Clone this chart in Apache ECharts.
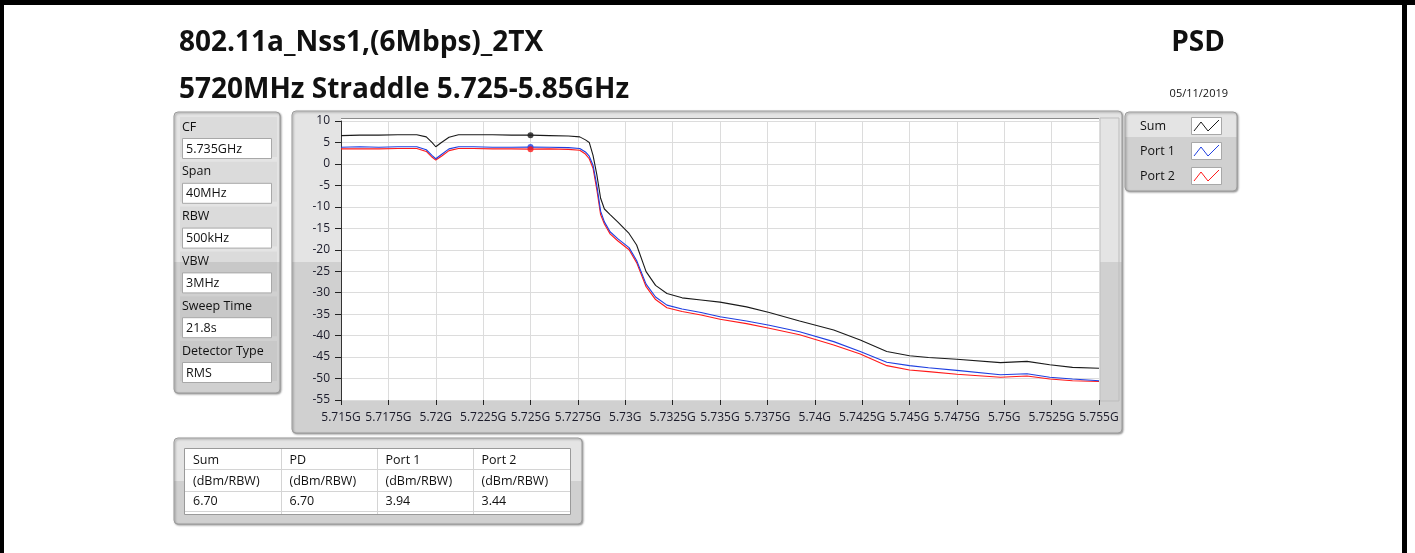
<!DOCTYPE html>
<html>
<head>
<meta charset="utf-8">
<script src="https://cdn.jsdelivr.net/npm/echarts@6/dist/echarts.min.js"></script>
<style>
html,body{margin:0;padding:0;background:#fff;}
#main{width:1415px;height:553px;}
</style>
</head>
<body>
<div id="main"></div>
<script>
// frequency in MHz, levels in dBm/RBW
var freq = [5715, 5716, 5717, 5718, 5719, 5719.5, 5719.8, 5720, 5720.3, 5720.7, 5721.2, 5722, 5723, 5724, 5725, 5726, 5727, 5727.6, 5727.9, 5728.1, 5728.3, 5728.5, 5728.7, 5728.9, 5729.2, 5729.6, 5730.2, 5730.6, 5731.1, 5731.6, 5732.2, 5733, 5734, 5735, 5736.4, 5737.6, 5739.2, 5741, 5742.4, 5743.8, 5745, 5746, 5747.5, 5749.8, 5751.2, 5752.4, 5753.6, 5755];
var sumVals = [6.6, 6.7, 6.7, 6.8, 6.8, 6.3, 5.0, 4.0, 5.0, 6.2, 6.8, 6.8, 6.8, 6.7, 6.7, 6.6, 6.5, 6.3, 5.6, 5.0, 2.0, -2.5, -8.0, -10.5, -11.8, -13.5, -16.2, -18.9, -25.1, -28.3, -30.2, -31.2, -31.7, -32.2, -33.3, -34.6, -36.6, -38.7, -41.0, -43.7, -44.7, -45.1, -45.5, -46.3, -46.0, -46.8, -47.4, -47.6];
var port1Vals = [3.9, 4.0, 3.9, 4.0, 4.0, 3.3, 2.0, 1.2, 2.2, 3.5, 4.0, 4.0, 3.9, 3.9, 3.94, 3.9, 3.8, 3.6, 2.8, 1.8, -0.3, -5.0, -11.0, -13.5, -15.8, -17.4, -19.5, -22.5, -28.0, -31.0, -32.9, -33.8, -34.6, -35.6, -36.6, -37.6, -39.1, -41.4, -43.7, -46.2, -47.0, -47.5, -48.1, -49.1, -48.9, -49.7, -50.1, -50.5];
var port2Vals = [3.5, 3.5, 3.5, 3.6, 3.6, 2.9, 1.6, 0.9, 1.8, 3.1, 3.6, 3.6, 3.5, 3.5, 3.44, 3.5, 3.4, 3.2, 2.3, 1.2, -1.0, -6.0, -11.8, -14.0, -16.3, -17.9, -20.0, -23.0, -28.6, -31.6, -33.5, -34.4, -35.2, -36.2, -37.2, -38.3, -39.8, -42.2, -44.3, -47.0, -48.0, -48.4, -49.0, -49.7, -49.4, -50.1, -50.5, -50.7];

var markerFreq = 5725;
var markerVals = [6.70, 3.94, 3.44];

var seriesNames = ['Sum', 'Port 1', 'Port 2'];
var seriesColors = ['#1a1a1a', '#1f3fe0', '#ff1a1a'];

var setNames = ['CF', 'Span', 'RBW', 'VBW', 'Sweep Time', 'Detector Type'];
var setValues = ['5.735GHz', '40MHz', '500kHz', '3MHz', '21.8s', 'RMS'];

var tableHead = ['Sum', 'PD', 'Port 1', 'Port 2'];
var tableUnits = ['(dBm/RBW)', '(dBm/RBW)', '(dBm/RBW)', '(dBm/RBW)'];
var tableVals = ['6.70', '6.70', '3.94', '3.44'];

var FONT = '"Open Sans", "Noto Sans", sans-serif';

function zip(xs, ys){
    var out = [];
    for (var i = 0; i < xs.length; i++) out.push([xs[i], ys[i]]);
    return out;
}

// grey LabVIEW-style panel, lighter top and darker bottom
function panel(x, y, w, h, split){
    return {
        type: 'rect', z: -10,
        shape: {x: x, y: y, width: w, height: h, r: 4},
        style: {
            fill: {type: 'linear', x: 0, y: 0, x2: 0, y2: 1, colorStops: [
                {offset: 0, color: '#e4e4e4'}, {offset: split, color: '#e4e4e4'},
                {offset: split, color: '#d0d0d0'}, {offset: 1, color: '#d0d0d0'}]},
            stroke: '#9c9c9c', lineWidth: 1,
            shadowColor: 'rgba(0,0,0,0.35)', shadowBlur: 2, shadowOffsetX: 1, shadowOffsetY: 1
        }
    };
}

function txt(x, y, s, font, align, color){
    return {
        type: 'text', z: 20, x: x, y: y,
        style: {text: s, font: font, fill: color || '#111', textAlign: align || 'left', textVerticalAlign: 'middle'}
    };
}

var g = [];

// page frame lines
g.push({type: 'rect', z: -20, shape: {x: 0, y: 0, width: 1415, height: 5}, style: {fill: '#000'}});
g.push({type: 'rect', z: -20, shape: {x: 0, y: 0, width: 4, height: 553}, style: {fill: '#000'}});
g.push({type: 'rect', z: -20, shape: {x: 1402, y: 0, width: 5, height: 553}, style: {fill: '#000'}});

// titles
g.push(txt(179, 43, '802.11a_Nss1,(6Mbps)_2TX', 'bold 28px ' + FONT));
g.push(txt(179, 90, '5720MHz Straddle 5.725-5.85GHz', 'bold 28px ' + FONT));
g.push(txt(1225, 43, 'PSD', 'bold 28px ' + FONT, 'right'));
g.push(txt(1228, 94, '05/11/2019', '11px ' + FONT, 'right'));

// graph frame + plot background
g.push(panel(292, 111, 830, 322, 0.469));
g.push({type: 'rect', z: -9, shape: {x: 1100, y: 118, width: 19, height: 283}, style: {fill: 'rgba(0,0,0,0)', stroke: '#bdbdbd', lineWidth: 1}});
g.push({type: 'rect', z: -8, shape: {x: 341, y: 118, width: 758, height: 282}, style: {fill: '#fff'}});
g.push({type: 'line', z: -7, shape: {x1: 341, y1: 118.5, x2: 1099, y2: 118.5}, style: {stroke: '#8a8a8a', lineWidth: 1}});

// settings panel
g.push(panel(174, 112, 106, 281, 0.534));
setNames.forEach(function(name, i){
    var y0 = 126 + i * 44.8;
    g.push({type: 'rect', z: -6, shape: {x: 180, y: y0 - 9, width: 97, height: 40}, style: {fill: 'rgba(0,0,0,0.035)'}});
    g.push(txt(182, y0 + 1, name, '12.5px ' + FONT));
    g.push({type: 'rect', z: -5, shape: {x: 182.5, y: y0 + 12.5, width: 89, height: 20}, style: {fill: '#fff', stroke: '#a8a8a8', lineWidth: 1}});
    g.push(txt(186, y0 + 23, setValues[i], '12.5px ' + FONT));
});

// legend panel
g.push(panel(1125, 112, 112, 79, 0.32));
seriesNames.forEach(function(name, i){
    var y0 = 126 + i * 25;
    g.push(txt(1140, y0, name, '12.5px ' + FONT));
    g.push({type: 'rect', z: -5, shape: {x: 1191.5, y: y0 - 8.5, width: 30, height: 17}, style: {fill: '#fff', stroke: '#a8a8a8', lineWidth: 1}});
    g.push({type: 'polyline', z: 5, shape: {points: [[1194, y0 + 5], [1201, y0 - 4], [1208, y0 + 5], [1219, y0 - 6]]}, style: {stroke: seriesColors[i], lineWidth: 1, fill: null}});
});

// readout table
g.push(panel(174, 438, 408, 86, 0.5));
g.push({type: 'rect', z: -5, shape: {x: 184.5, y: 448.5, width: 386, height: 66}, style: {fill: '#fff', stroke: '#9a9a9a', lineWidth: 1}});
var colX = [185, 281.5, 377.5, 473.5];
var rowY = [469.5, 491.5, 511.5];
rowY.forEach(function(y){
    g.push({type: 'line', z: -4, shape: {x1: 185, y1: y, x2: 570, y2: y}, style: {stroke: '#d4d4d4', lineWidth: 1}});
});
colX.slice(1).forEach(function(x){
    g.push({type: 'line', z: -4, shape: {x1: x, y1: 449, x2: x, y2: 514}, style: {stroke: '#d4d4d4', lineWidth: 1}});
});
tableHead.forEach(function(h, i){
    g.push(txt(colX[i] + 8, 460, h, '12.5px ' + FONT));
    g.push(txt(colX[i] + 8, 481, tableUnits[i], '12.5px ' + FONT));
    g.push(txt(colX[i] + 8, 501, tableVals[i], '12.5px ' + FONT));
});

var lineSeries = [
    {name: 'Port 2', type: 'line', data: zip(freq, port2Vals), color: seriesColors[2]},
    {name: 'Port 1', type: 'line', data: zip(freq, port1Vals), color: seriesColors[1]},
    {name: 'Sum', type: 'line', data: zip(freq, sumVals), color: seriesColors[0]}
].map(function(s){
    s.showSymbol = false;
    s.lineStyle = {width: 1.1, color: s.color};
    s.itemStyle = {color: s.color};
    s.animation = false;
    return s;
});

var markers = {
    type: 'scatter', symbol: 'circle', symbolSize: 6, animation: false, z: 5,
    data: markerVals.map(function(v, i){
        return {value: [markerFreq, v], itemStyle: {color: seriesColors[i]}};
    })
};

var chart = echarts.init(document.getElementById('main'));
chart.setOption({
    backgroundColor: '#fff',
    animation: false,
    graphic: g,
    grid: {left: 341, top: 121, width: 758, height: 279},
    xAxis: {
        type: 'value', min: 5715, max: 5755, interval: 2.5,
        axisLine: {show: true, onZero: false, lineStyle: {color: 'rgba(0,0,0,0)'}},
        axisTick: {show: true, length: 5, lineStyle: {color: '#222'}},
        axisLabel: {margin: 12, color: '#1b1b2a', fontFamily: FONT, fontSize: 12,
            formatter: function(v){ return (v / 1000) + 'G'; }},
        splitLine: {show: true, lineStyle: {color: '#dcdcdc', width: 1}}
    },
    yAxis: {
        type: 'value', min: -55, max: 10, interval: 5,
        axisLine: {show: true, onZero: false, lineStyle: {color: '#333'}},
        axisTick: {show: true, length: 6, lineStyle: {color: '#222'}},
        axisLabel: {margin: 11, color: '#1b1b2a', fontFamily: FONT, fontSize: 12},
        splitLine: {show: true, lineStyle: {color: '#dcdcdc', width: 1}}
    },
    series: lineSeries.concat([markers])
});
</script>
</body>
</html>
